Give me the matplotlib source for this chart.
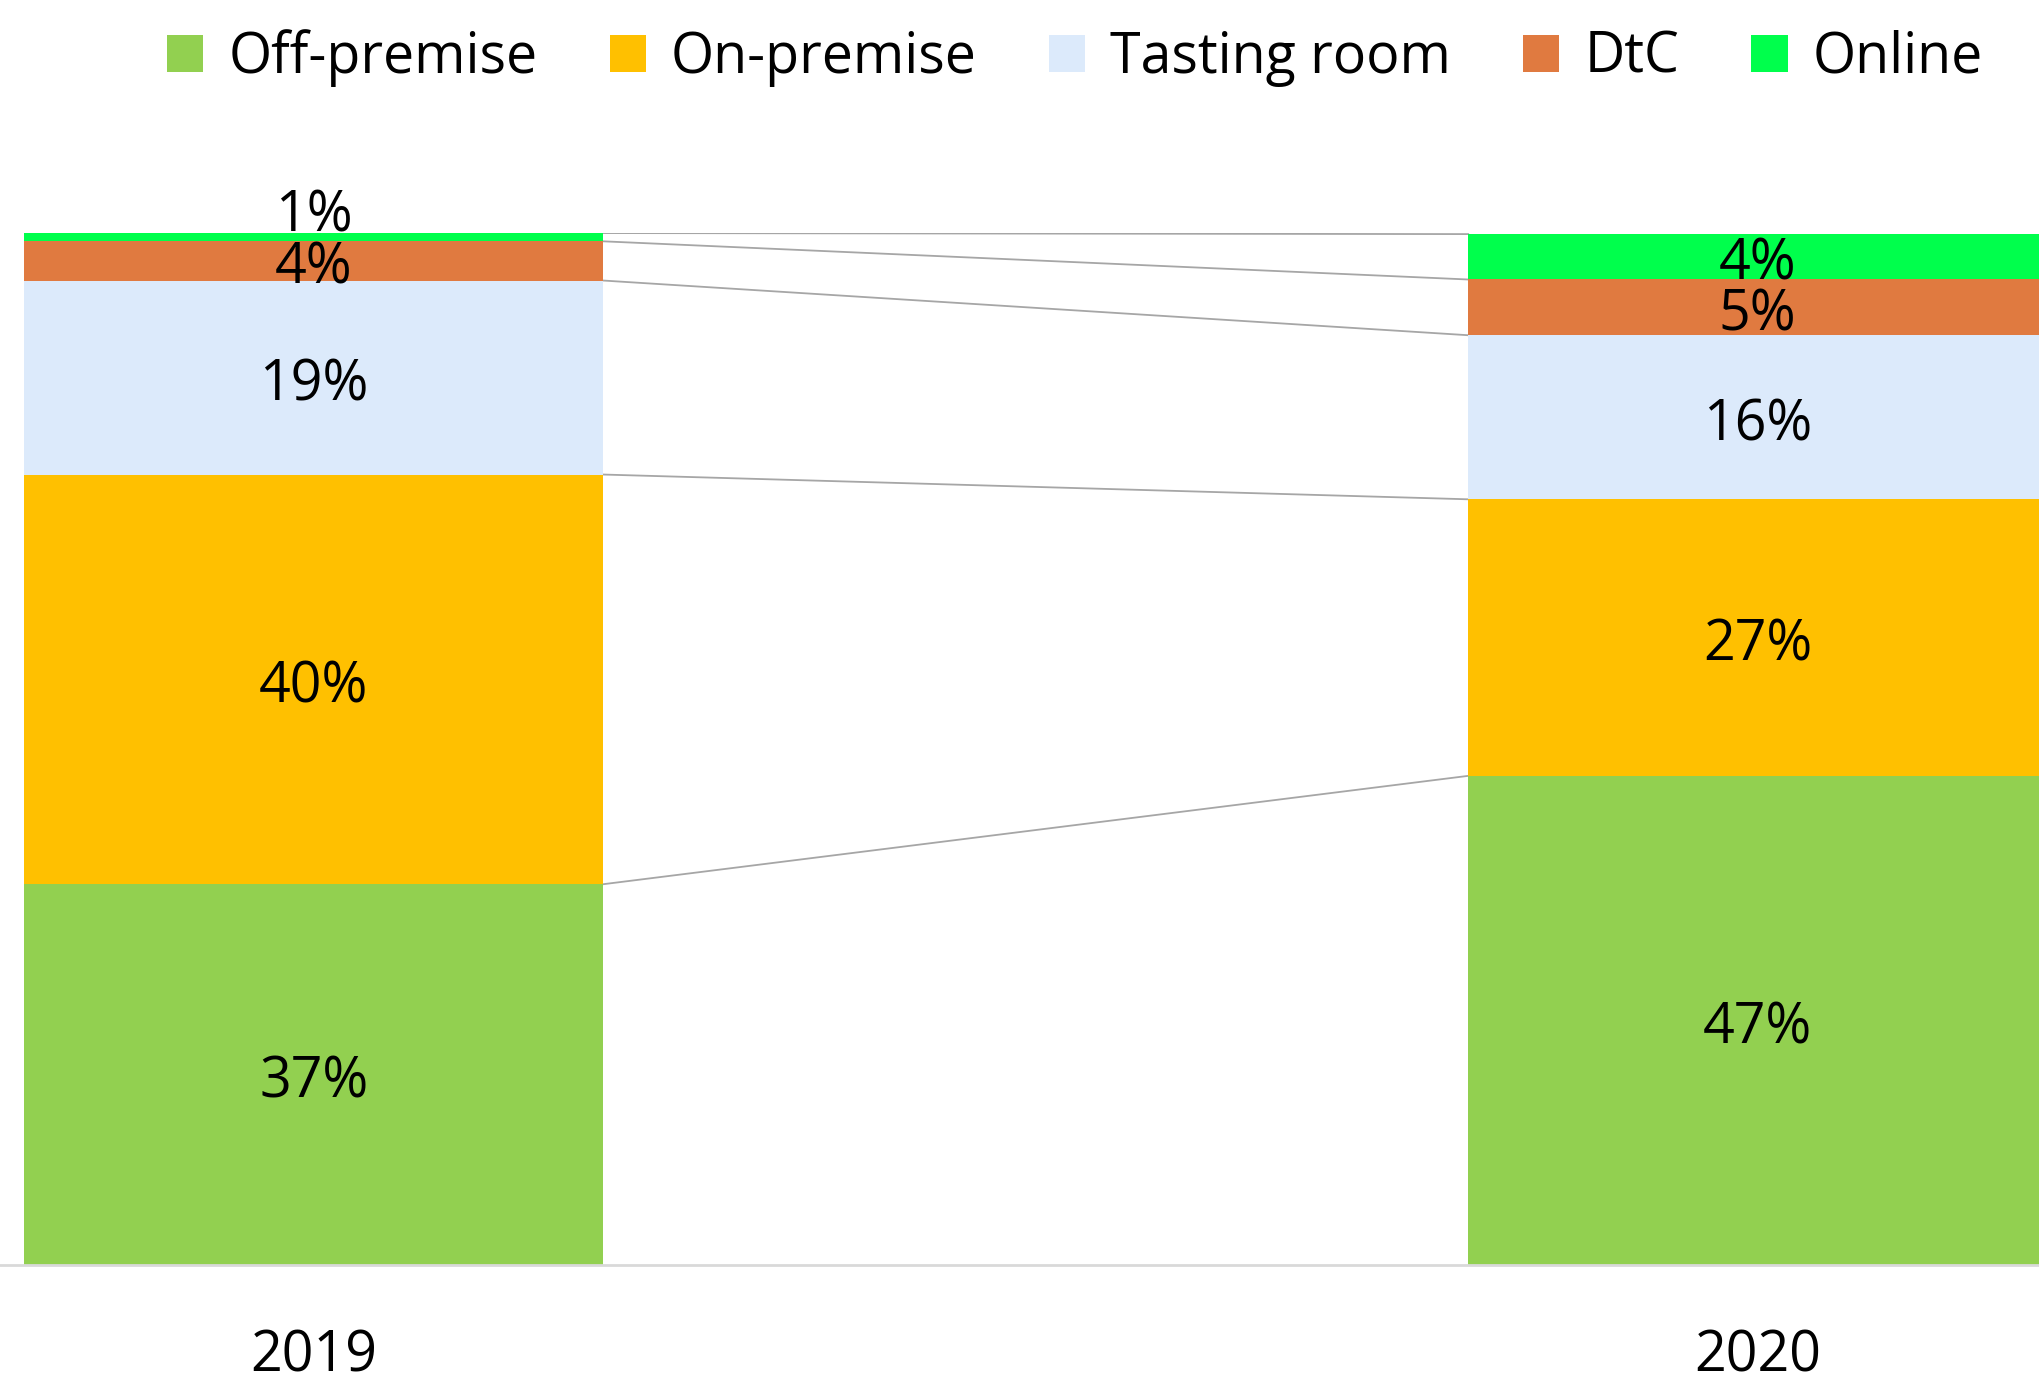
import matplotlib.pyplot as plt
from matplotlib.patches import Patch

# data (share of sales, %)
years = ['2019', '2020']
channels = ['Off-premise', 'On-premise', 'Tasting room', 'DtC', 'Online']
share_2019 = [36.9, 39.7, 18.8, 3.8, 0.8]
share_2020 = [47.4, 26.8, 15.9, 5.4, 4.4]
colors = ['#92D050', '#FFC000', '#DCEAFB', '#E07A40', '#00FF4C']

plt.rcParams['font.family'] = ['Open Sans', 'DejaVu Sans']

fig = plt.figure(figsize=(20.4, 13.75), dpi=100)
ax = fig.add_axes([0, 0.08, 1, 0.7505])

x = [0, 1]
width = 0.401
bottoms = [0, 0]
tops_2019 = []
tops_2020 = []
for i, ch in enumerate(channels):
    vals = [share_2019[i], share_2020[i]]
    ax.bar(x, vals, width, bottom=bottoms, color=colors[i], label=ch, zorder=2)
    for j in range(2):
        yc = bottoms[j] + vals[j] / 2
        if j == 0 and ch == 'Online':
            yc = 102.4  # label was pushed above the thin segment
        ax.annotate(f'{vals[j]:.0f}%', (x[j], yc), xytext=(0, -6),
                    textcoords='offset points', ha='center', va='center',
                    fontsize=40, color='black', zorder=4,
                    annotation_clip=False)
    bottoms = [bottoms[0] + vals[0], bottoms[1] + vals[1]]
    tops_2019.append(bottoms[0])
    tops_2020.append(bottoms[1])

# series lines between the bars
for a, b in zip(tops_2019, tops_2020):
    ax.plot([x[0] + width / 2, x[1] - width / 2], [a, b], color='#A6A6A6',
            lw=1.3, zorder=1)

ax.set_xlim(-0.2172, 1.1955)
ax.set_ylim(0, 100)
ax.set_xticks(x)
ax.set_xticklabels(years, fontsize=40)
ax.tick_params(axis='x', length=0, pad=46)
ax.set_yticks([])
for s in ['top', 'right', 'left']:
    ax.spines[s].set_visible(False)
ax.spines['bottom'].set_color('#D9D9D9')
ax.spines['bottom'].set_linewidth(2)

handles = [Patch(facecolor=c, label=l) for c, l in zip(colors, channels)]
fig.legend(handles=handles, loc='center', bbox_to_anchor=(0.527, 0.958),
           ncol=5, frameon=False, fontsize=40, handlelength=0.65,
           handleheight=0.65, handletextpad=0.45, columnspacing=1.3)

fig.savefig('out.png', dpi=100)
